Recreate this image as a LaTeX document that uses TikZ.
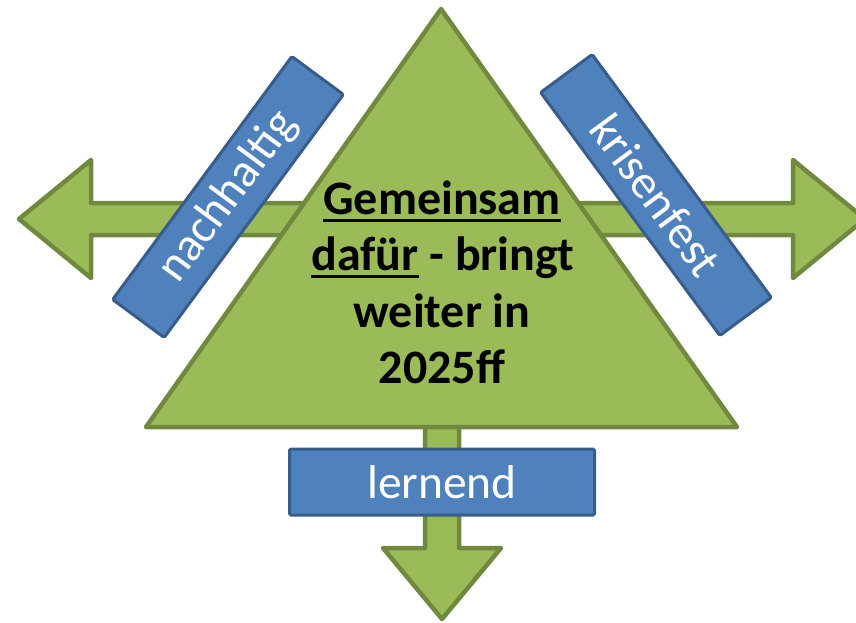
\documentclass[tikz,border=0pt]{standalone}
\usepackage{fontspec}
\setmainfont{Carlito}
\definecolor{gfill}{HTML}{9BBB59}
\definecolor{gline}{HTML}{71893F}
\definecolor{bfill}{HTML}{4F81BD}
\definecolor{bline}{HTML}{385D8A}
\newcommand{\myul}[1]{\setbox0\hbox{#1}\rlap{\rule[-7.5pt]{\wd0}{2.6pt}}\box0\relax}
\tikzset{
  greenshape/.style={fill=gfill, draw=gline, line width=4.5pt, line join=round},
  labelbox/.style={fill=bfill, draw=bline, line width=3pt, rounded corners=1.5pt,
    text=white, inner sep=0pt, font=\fontsize{47.5}{56}\selectfont},
  maintext/.style={inner sep=0pt, anchor=base, font=\bfseries\fontsize{48}{56}\selectfont}
}
\begin{document}
\begin{tikzpicture}[x=1pt,y=-1pt]
\useasboundingbox (0,0) rectangle (856,623);
\clip (0,0) rectangle (856,623);
% horizontal double arrow
\draw[greenshape] (19,219) -- (91,160) -- (91,203) -- (793,203) -- (793,160)
  -- (865,219) -- (793,278) -- (793,235) -- (91,235) -- (91,278) -- cycle;
% bottom arrow
\draw[greenshape] (425,400) -- (459,400) -- (459,548) -- (501,548) -- (442,619)
  -- (383,548) -- (425,548) -- cycle;
% triangle
\draw[greenshape] (441,9) -- (737,427) -- (146,427) -- cycle;
% main text
\node[maintext] (t1) at (442,214) {\myul{Gemeinsam}};
\node[maintext] (t2) at (443,270) {\myul{dafür} - bringt};
\node[maintext] (t3) at (442,327) {weiter in};
\node[maintext] (t4) at (442,383) {2025ff};
% labels
\node[labelbox, rotate=53.6, minimum width=302pt, minimum height=64pt] (nach) at (228,197) {nachhaltig};
\node[labelbox, rotate=-53.6, minimum width=302pt, minimum height=64pt] (kris) at (656,195) {krisenfest};
\node[labelbox, minimum width=305pt, minimum height=66pt] (lern) at (442,482) {lernend};
\end{tikzpicture}
\end{document}
